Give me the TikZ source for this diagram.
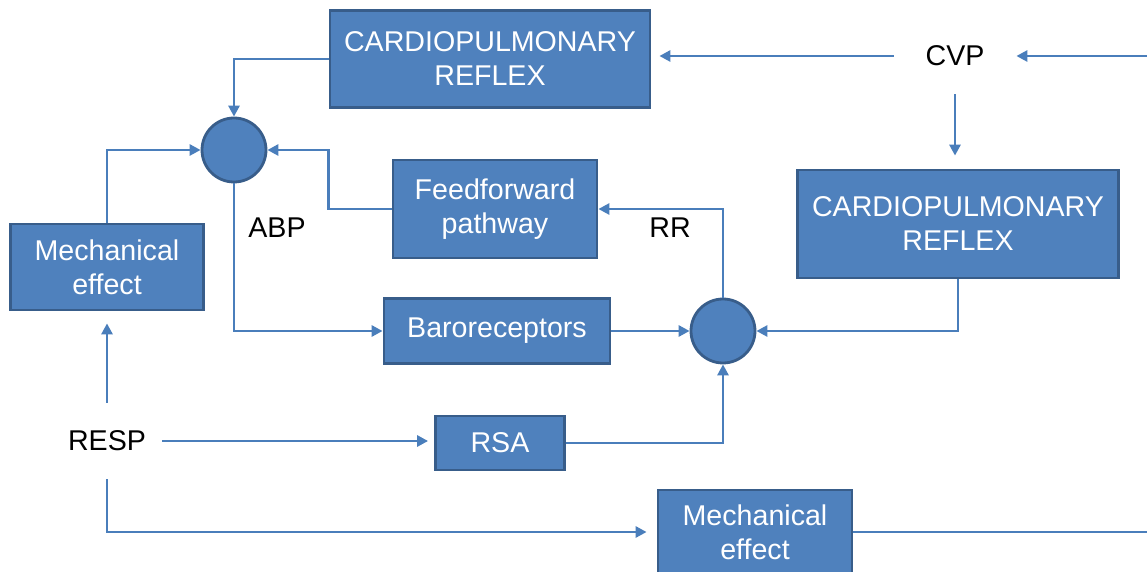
\documentclass[tikz,border=0pt]{standalone}
\usepackage{fontspec}
\setmainfont{Liberation Sans}
\usetikzlibrary{arrows.meta}
\definecolor{boxfill}{HTML}{4F81BD}
\definecolor{boxline}{HTML}{385D8A}
\definecolor{wire}{HTML}{4A7EBB}
\begin{document}
\begin{tikzpicture}[x=0.5pt,y=-0.5pt,
  blk/.style={draw=boxline,fill=boxfill,line width=1.4pt,text=white,align=center,
    inner sep=0pt,font=\fontsize{14.3}{17}\selectfont},
  summ/.style={circle,draw=boxline,fill=boxfill,line width=1.4pt,minimum size=32pt,inner sep=0pt},
  lab/.style={inner sep=0pt,font=\fontsize{14.3}{17}\selectfont},
  wr/.style={draw=wire,line width=1.4pt,-{Triangle[length=5.5pt,width=5.5pt]}}]
  \useasboundingbox (0,0) rectangle (1147,572);
  % blocks
  \node[blk,minimum width=160pt,minimum height=48.5pt] (cpa) at (490,59) {CARDIOPULMONARY\\REFLEX};
  \node[blk,minimum width=160.5pt,minimum height=54pt] (cpb) at (958,224) {CARDIOPULMONARY\\REFLEX};
  \node[blk,minimum width=102pt,minimum height=49pt] (ff) at (495,209) {Feedforward\\pathway};
  \node[blk,minimum width=96.5pt,minimum height=43pt] (mecha) at (107,267) {Mechanical\\effect};
  \node[blk,minimum width=113pt,minimum height=32.5pt] (baro) at (497,331) {Baroreceptors};
  \node[blk,minimum width=64.5pt,minimum height=27pt] (rsa) at (500,443) {RSA};
  \node[blk,minimum width=97pt,minimum height=42pt] (mechb) at (755,532) {Mechanical\\effect};
  % summing points
  \node[summ] (abp) at (234,150) {};
  \node[summ] (rr) at (723,331) {};
  % signals
  \node[lab,minimum width=61pt,minimum height=38pt] (cvp) at (955,56) {CVP};
  \node[lab,minimum width=55pt,minimum height=38pt] (resp) at (107,441) {RESP};
  \node[lab] (abplab) at (277,228) {ABP};
  \node[lab] (rrlab) at (670,228) {RR};
  \coordinate (cvpin) at (1147,56);
  \coordinate (mechout) at (1147,532);
  % connectors
  \draw[wr] (cpa.west) -| (abp.north);
  \draw[wr] (ff.west) -- ++(-63,0) |- (abp.east);
  \draw[wr] (mecha.north) |- (abp.west);
  \draw[wr] (abp.south) |- (baro.west);
  \draw[wr] (baro.east) -- (rr.west);
  \draw[wr] (rsa.east) -| (rr.south);
  \draw[wr] (rr.north) |- (ff.east);
  \draw[wr] (cpb.south) |- (rr.east);
  \draw[wr,shorten >=4pt] (cvp.west) -- (cvp.west -| cpa.east);
  \draw[wr] (cvpin) -- (cvp.east);
  \draw[wr,shorten >=6.5pt] (cvp.south) -- (cvp.south |- cpb.north);
  \draw[wr,shorten >=6pt] (resp.north) -- (mecha.south);
  \draw[wr,shorten >=3pt] (resp.east) -- (resp.east -| rsa.west);
  \draw[wr,shorten >=5pt] (resp.south) |- (mechb.west);
  \draw[draw=wire,line width=1.4pt] (mechb.east) -- (mechout);
\end{tikzpicture}
\end{document}
